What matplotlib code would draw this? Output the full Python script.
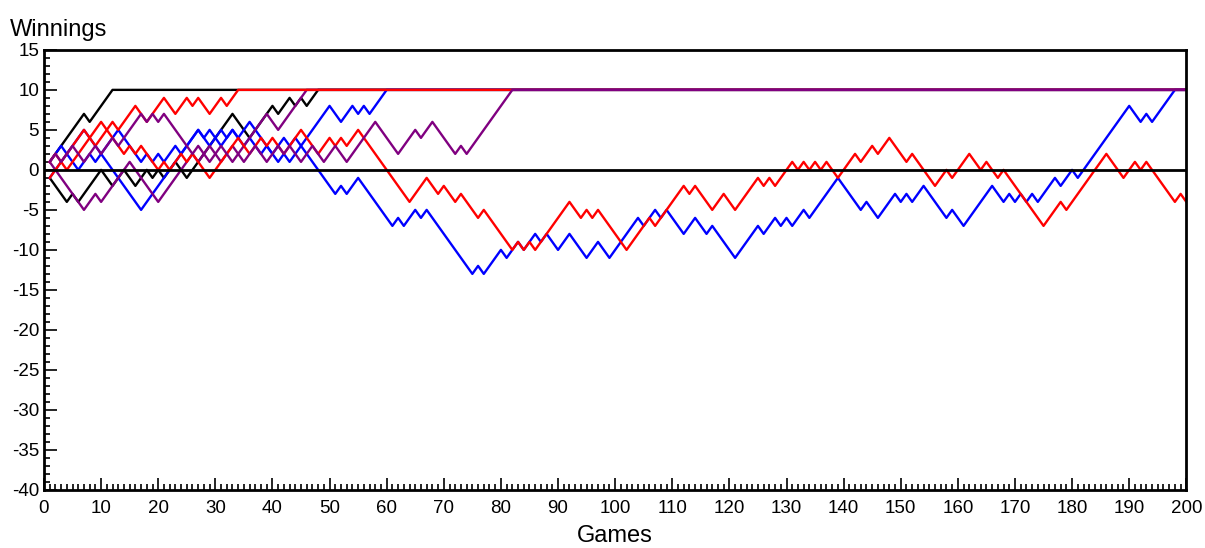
import numpy as np
import matplotlib.pyplot as plt

# walk values, game 1 onward (a walk stays at 10 once it gets there)
black_a = [1, 2, 3, 4, 5, 6, 7, 6, 7, 8, 9, 10]
black_b = [-1, -2, -3, -4, -3, -4, -3, -2, -1, 0, -1, -2, -1, 0, -1, -2, -1, 0, -1, 0,
           -1, 0, 1, 0, -1, 0, 1, 2, 3, 4, 5, 6, 7, 6, 5, 4, 5, 6, 7, 8,
           7, 8, 9, 8, 9, 8, 9, 10]
red_a = [-1, 0, 1, 2, 3, 4, 5, 4, 3, 4, 5, 6, 5, 6, 7, 8, 7, 6, 7, 8,
         9, 8, 7, 8, 9, 8, 9, 8, 7, 8, 9, 8, 9, 10]
red_b = [1, 2, 1, 0, 1, 2, 3, 4, 5, 6, 5, 4, 3, 2, 3, 2, 3, 2, 1, 0,
         1, 0, 1, 2, 1, 2, 1, 0, -1, 0, 1, 2, 3, 4, 3, 2, 3, 4, 3, 4,
         3, 2, 3, 4, 5, 4, 3, 2, 3, 4, 3, 4, 3, 4, 5, 4, 3, 2, 1, 0,
         -1, -2, -3, -4, -3, -2, -1, -2, -3, -2, -3, -4, -3, -4, -5, -6, -5, -6, -7, -8,
         -9, -10, -9, -10, -9, -10, -9, -8, -7, -6, -5, -4, -5, -6, -5, -6, -5, -6, -7, -8,
         -9, -10, -9, -8, -7, -6, -7, -6, -5, -4, -3, -2, -3, -2, -3, -4, -5, -4, -3, -4,
         -5, -4, -3, -2, -1, -2, -1, -2, -1, 0, 1, 0, 1, 0, 1, 0, 1, 0, -1, 0,
         1, 2, 1, 2, 3, 2, 3, 4, 3, 2, 1, 2, 1, 0, -1, -2, -1, 0, -1, 0,
         1, 2, 1, 0, 1, 0, -1, 0, -1, -2, -3, -4, -5, -6, -7, -6, -5, -4, -5, -4,
         -3, -2, -1, 0, 1, 2, 1, 0, -1, 0, 1, 0, 1, 0, -1, -2, -3, -4, -3, -4]
blue_a = [1, 2, 3, 2, 1, 0, 1, 2, 1, 2, 3, 4, 5, 4, 3, 2, 1, 2, 1, 2,
          1, 2, 3, 2, 3, 4, 5, 4, 5, 4, 3, 4, 5, 4, 3, 4, 3, 2, 3, 2,
          3, 4, 3, 4, 3, 2, 1, 0, -1, -2, -3, -2, -3, -2, -1, -2, -3, -4, -5, -6,
          -7, -6, -7, -6, -5, -6, -5, -6, -7, -8, -9, -10, -11, -12, -13, -12, -13, -12, -11, -10,
          -11, -10, -9, -10, -9, -8, -9, -8, -9, -10, -9, -8, -9, -10, -11, -10, -9, -10, -11, -10,
          -9, -8, -7, -6, -7, -6, -5, -6, -5, -6, -7, -8, -7, -6, -7, -8, -7, -8, -9, -10,
          -11, -10, -9, -8, -7, -8, -7, -6, -7, -6, -7, -6, -5, -6, -5, -4, -3, -2, -1, -2,
          -3, -4, -5, -4, -5, -6, -5, -4, -3, -4, -3, -4, -3, -2, -3, -4, -5, -6, -5, -6,
          -7, -6, -5, -4, -3, -2, -3, -4, -3, -4, -3, -4, -3, -4, -3, -2, -1, -2, -1, 0,
          -1, 0, 1, 2, 3, 4, 5, 6, 7, 8, 7, 6, 7, 6, 7, 8, 9, 10]
blue_b = [-1, 0, 1, 2, 3, 4, 5, 4, 3, 2, 1, 0, -1, -2, -3, -4, -5, -4, -3, -2,
          -1, 0, 1, 2, 3, 4, 5, 4, 3, 4, 5, 4, 5, 4, 5, 6, 5, 4, 3, 2,
          1, 2, 1, 2, 3, 4, 5, 6, 7, 8, 7, 6, 7, 8, 7, 8, 7, 8, 9, 10]
purple_a = [1, 0, -1, -2, -3, -4, -5, -4, -3, -4, -3, -2, -1, 0, 1, 0, -1, -2, -3, -4,
            -3, -2, -1, 0, 1, 2, 1, 2, 3, 2, 1, 2, 3, 2, 3, 4, 5, 6, 7, 6,
            5, 6, 7, 8, 9, 10]
purple_b = [1, 2, 1, 2, 3, 2, 1, 2, 3, 2, 3, 4, 3, 4, 5, 6, 7, 6, 7, 6,
            7, 6, 5, 4, 3, 2, 3, 2, 1, 2, 3, 2, 1, 2, 1, 2, 3, 2, 1, 2,
            3, 2, 3, 2, 1, 2, 3, 2, 1, 2, 3, 2, 1, 2, 3, 4, 5, 6, 5, 4,
            3, 2, 3, 4, 5, 4, 5, 6, 5, 4, 3, 2, 3, 2, 3, 4, 5, 6, 7, 8,
            9, 10]

n_games = 200


def pad(walk):
    w = list(walk)
    return np.array(w + [w[-1]] * (n_games - len(w)))


games = np.arange(1, n_games + 1)
walks = [(black_a, 'black'), (black_b, 'black'), (blue_a, 'blue'), (blue_b, 'blue'),
         (purple_a, 'purple'), (red_b, 'red'), (red_a, 'red'), (purple_b, 'purple')]

plt.rcParams['font.family'] = ['Liberation Sans', 'DejaVu Sans']
plt.rcParams['axes.unicode_minus'] = False
fig = plt.figure(figsize=(12.05, 5.48), dpi=100)
ax = fig.add_axes([0.0365, 0.106, 0.948, 0.803])

for w, c in walks:
    ax.plot(games, pad(w), color=c, lw=1.7)
ax.axhline(0, color='black', lw=2, zorder=3)

ax.set_xlim(0, 200)
ax.set_ylim(-40, 15)
ax.set_xticks(np.arange(0, 201, 10))
ax.set_xticks(np.arange(0, 201, 1), minor=True)
ax.set_yticks(np.arange(-40, 16, 5))
ax.set_yticks(np.arange(-40, 16, 1), minor=True)
ax.tick_params(which='both', direction='in', labelsize=13.5, width=1.2)
ax.tick_params(which='major', length=9)
ax.tick_params(which='minor', length=4)
ax.tick_params(axis='x', pad=7)
for s in ax.spines.values():
    s.set_linewidth(2)
ax.set_xlabel('Games', fontsize=17, labelpad=6)
fig.text(0.008, 0.935, 'Winnings', fontsize=17)

fig.savefig('out.png')
